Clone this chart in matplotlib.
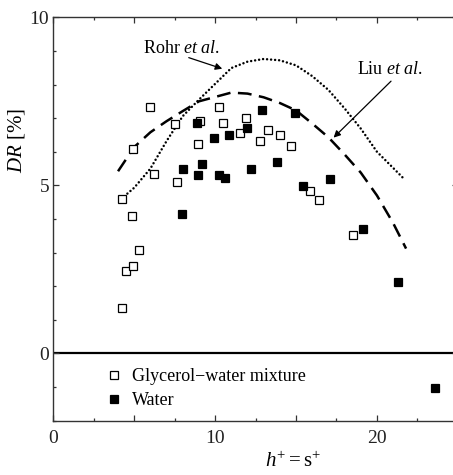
import matplotlib
matplotlib.use("Agg")
import matplotlib.pyplot as plt
from matplotlib.ticker import MultipleLocator, FixedLocator, FixedFormatter

plt.rcParams['font.family'] = ['Liberation Serif', 'DejaVu Serif']
plt.rcParams['mathtext.fontset'] = 'custom'
plt.rcParams['mathtext.rm'] = 'Liberation Serif'
plt.rcParams['mathtext.it'] = 'Liberation Serif:italic'

# Glycerol-water mixture (open squares)
gly_x = [4.22, 4.24, 4.51, 4.86, 4.90, 4.92, 5.27, 6.00, 6.20, 7.55, 7.65, 8.97,
         9.05, 10.23, 10.50, 11.53, 11.90, 12.77, 13.29, 14.01, 14.67, 15.87, 16.39, 18.54]
gly_y = [1.36, 4.60, 2.45, 4.09, 2.60, 6.07, 3.07, 7.34, 5.34, 6.82, 5.10, 6.24,
         6.92, 7.33, 6.85, 6.57, 7.01, 6.32, 6.65, 6.49, 6.16, 4.82, 4.56, 3.51]

# Water (filled squares)
wat_x = [7.96, 8.02, 8.90, 8.93, 9.20, 9.90, 10.27, 10.58, 10.88, 11.95, 12.19,
         12.92, 13.81, 14.92, 15.44, 17.09, 19.16, 21.29, 23.56]
wat_y = [4.15, 5.48, 6.85, 5.31, 5.63, 6.40, 5.30, 5.22, 6.49, 6.71, 5.49,
         7.24, 5.71, 7.14, 4.97, 5.20, 3.69, 2.13, -1.02]

# Rohr et al. (dotted)
rohr_x = [4.2, 5.0, 6.0, 7.0, 8.0, 9.0, 10.0, 11.0, 12.0, 13.0, 14.0, 15.0,
          16.0, 17.0, 18.0, 19.0, 20.0, 21.0, 21.7]
rohr_y = [4.6, 4.93, 5.5, 6.32, 7.06, 7.55, 8.02, 8.49, 8.68, 8.76, 8.72, 8.57,
          8.25, 7.84, 7.29, 6.69, 6.0, 5.52, 5.18]

# Liu et al. (dashed)
liu_x = [4.0, 5.0, 6.0, 7.0, 8.0, 9.0, 10.0, 11.0, 12.0, 13.0, 14.0, 15.0,
         16.0, 17.0, 18.0, 19.0, 20.0, 21.0, 21.8]
liu_y = [5.42, 6.14, 6.58, 6.91, 7.21, 7.50, 7.63, 7.76, 7.73, 7.62, 7.45, 7.23,
         6.84, 6.43, 5.92, 5.38, 4.70, 3.88, 3.12]

x_tick_labels = ['0', '', '10', '', '20', '']
y_tick_labels = ['0', '5', '10']

fig = plt.figure(figsize=(4.53, 4.75), dpi=100)
ax = fig.add_axes([0.1177, 0.1143, 0.893, 0.8493])

ax.axhline(0, color='black', lw=1.6, zorder=1)
ax.plot(rohr_x, rohr_y, color='black', lw=1.8, linestyle=(0, (0.01, 1.6)),
        dash_capstyle='round', zorder=2)
ax.plot(liu_x, liu_y, color='black', lw=1.8, linestyle=(0, (5.5, 3)), zorder=2)

ax.plot(gly_x, gly_y, 's', ms=5.4, mfc='white', mec='black', mew=0.9,
        linestyle='none', label='Glycerol\u2212water mixture', zorder=3)
ax.plot(wat_x, wat_y, 's', ms=5.4, mfc='black', mec='black', mew=0.9,
        linestyle='none', label='Water', zorder=4)

ax.set_xlim(0, 25)
ax.set_ylim(-2, 10)
ax.xaxis.set_major_locator(FixedLocator([0, 5, 10, 15, 20, 25]))
ax.xaxis.set_major_formatter(FixedFormatter(x_tick_labels))
ax.xaxis.set_minor_locator(MultipleLocator(2.5))
ax.yaxis.set_major_locator(FixedLocator([0, 5, 10]))
ax.yaxis.set_major_formatter(FixedFormatter(y_tick_labels))
ax.yaxis.set_minor_locator(MultipleLocator(1))
ax.tick_params(which='both', direction='in', top=True, right=True,
               labelsize=14, color='#333333', labelcolor='#222222')
ax.tick_params(axis='x', which='major', pad=7)
ax.tick_params(axis='y', which='major', pad=3)
ax.tick_params(which='major', length=4, width=0.9)
ax.tick_params(which='minor', length=2.5, width=0.9)
for s in ax.spines.values():
    s.set_linewidth(1.0)
    s.set_color('#333333')

fig.text(0.037, 0.705, r'$DR$ [%]', rotation=90, ha='center', va='center',
         fontsize=15)
fig.text(0.646, 0.027, r'$h^{+} = \mathrm{s}^{+}$', ha='center', va='center',
         fontsize=15)

ax.text(7.95, 9.08, r'Rohr $et\ al.$', ha='center', va='center', fontsize=13)
ax.annotate('', xy=(10.44, 8.47), xytext=(8.37, 8.80),
            arrowprops=dict(arrowstyle='-|>', color='black', lw=0.9,
                            mutation_scale=10, shrinkA=0, shrinkB=0))
ax.text(20.8, 8.45, r'Liu $et\ al.$', ha='center', va='center', fontsize=13)
ax.annotate('', xy=(17.32, 6.42), xytext=(20.87, 8.10),
            arrowprops=dict(arrowstyle='-|>', color='black', lw=0.9,
                            mutation_scale=10, shrinkA=0, shrinkB=0))

ax.legend(loc='upper left', bbox_to_anchor=(0.137, 0.13), frameon=False,
          fontsize=13, handlelength=0.6, handletextpad=0.7, borderpad=0,
          borderaxespad=0, labelspacing=0.38, markerscale=1.0)

fig.savefig('out.png', dpi=100)
